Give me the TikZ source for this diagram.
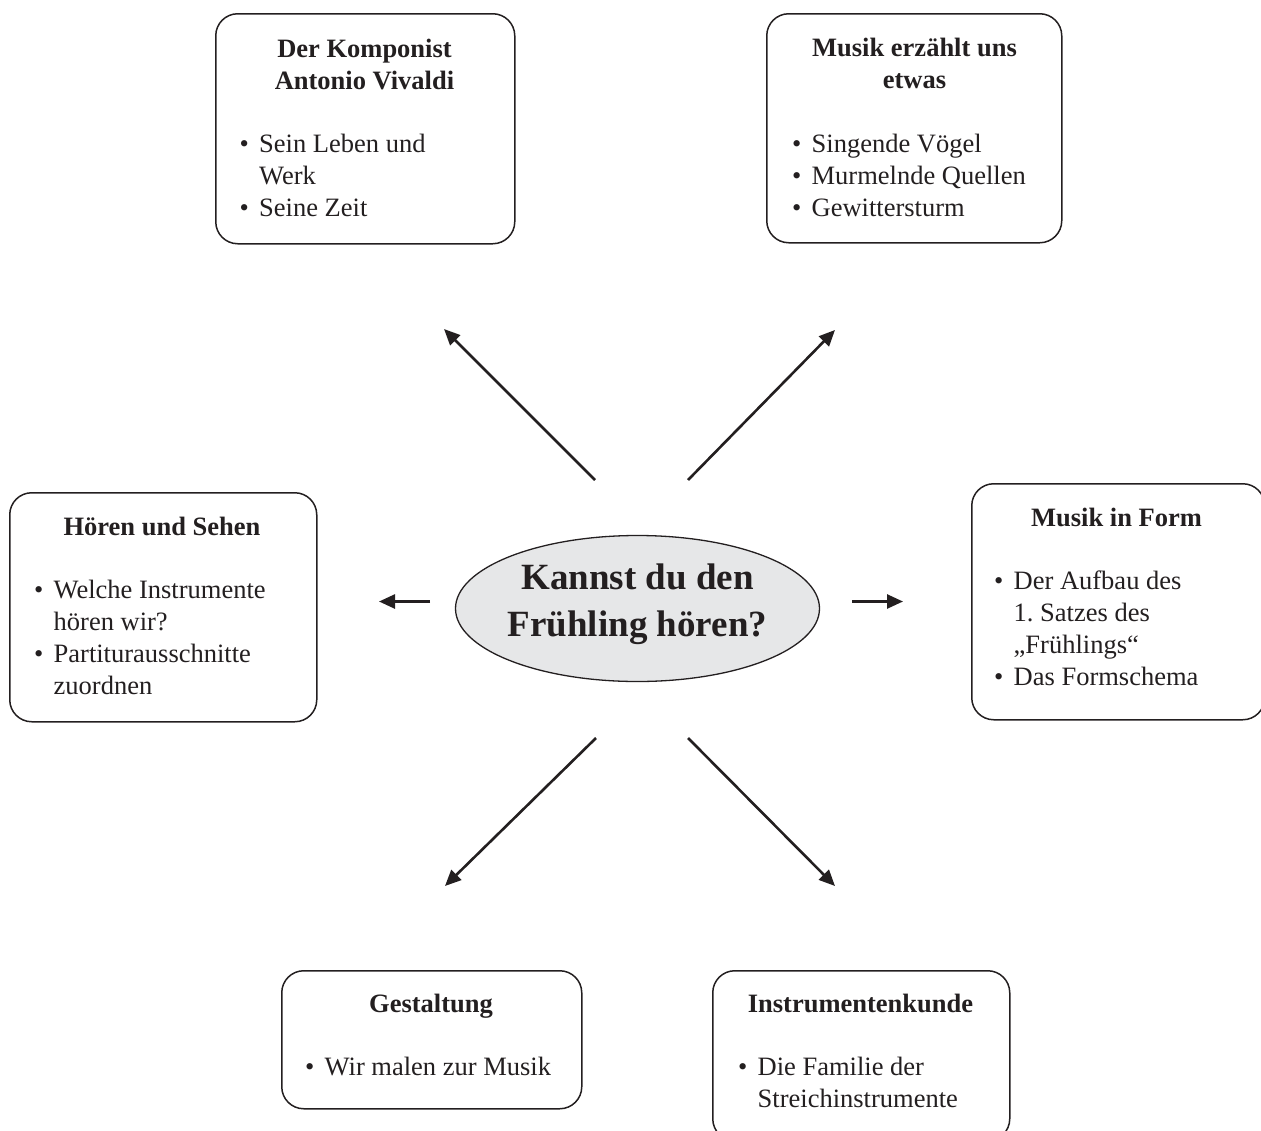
\documentclass[tikz,border=0pt]{standalone}
\usepackage{fontspec}
\setmainfont{Liberation Serif}
\usetikzlibrary{arrows.meta,shapes.geometric}
\definecolor{ink}{HTML}{231F20}
\definecolor{ellfill}{HTML}{E6E7E8}
\newlength{\bw}
\setlength{\bw}{19.5pt}
\newcommand{\Ttl}[3]{\node[ttl] (#1) at #2 {#3};}
\newcommand{\Itm}[3]{\node[txt] (#1) at #2 {\makebox[\bw][l]{\textbullet}#3};}
\newcommand{\Cnt}[3]{\node[txt] (#1) at #2 {\hspace*{\bw}#3};}
\frenchspacing
\begin{document}
\begin{tikzpicture}[x=1pt,y=-1pt,
  boxst/.style={draw=ink, line width=1.5pt, rounded corners=22pt, inner sep=0pt, anchor=north west},
  ttl/.style={font=\fontsize{26.5}{32}\selectfont\bfseries, text=ink, inner sep=0pt, anchor=base},
  txt/.style={font=\fontsize{26.5}{32}\selectfont, text=ink, inner sep=0pt, anchor=base west},
  big/.style={font=\fontsize{37}{47}\selectfont\bfseries, text=ink, inner sep=0pt, anchor=base},
  arr/.style={draw=ink, line width=2.6pt, -{Triangle[length=16pt,width=14pt]}},
]
\useasboundingbox (0,0) rectangle (1261,1130);

% central ellipse
\node[ellipse, draw=ink, line width=1.3pt, fill=ellfill, minimum width=364pt, minimum height=146pt, inner sep=0pt] (c) at (637.5,608.5) {};
\node[big] (c1) at (637.5,589) {Kannst du den};
\node[big] (c2) at (637.5,636) {Frühling hören?};

% box 1
\node[boxst, minimum width=299pt, minimum height=230pt] (b1) at (215,13) {};
\Ttl{b1t1}{(364.5,57.5)}{Der Komponist}
\Ttl{b1t2}{(364.5,89.5)}{Antonio Vivaldi}
\Itm{b1i1}{(239.5,152.5)}{Sein Leben und}
\Cnt{b1i2}{(239.5,184.5)}{Werk}
\Itm{b1i3}{(239.5,216.5)}{Seine Zeit}

% box 2
\node[boxst, minimum width=295pt, minimum height=229pt] (b2) at (766,13) {};
\Ttl{b2t1}{(914.5,56.5)}{Musik erzählt uns}
\Ttl{b2t2}{(914.5,88.5)}{etwas}
\Itm{b2i1}{(792,152)}{Singende Vögel}
\Itm{b2i2}{(792,184)}{Murmelnde Quellen}
\Itm{b2i3}{(792,216)}{Gewittersturm}

% box 3
\node[boxst, minimum width=307pt, minimum height=229pt] (b3) at (9,492) {};
\Ttl{b3t1}{(162,535)}{Hören und Sehen}
\Itm{b3i1}{(34,598)}{Welche Instrumente}
\Cnt{b3i2}{(34,630)}{hören wir?}
\Itm{b3i3}{(34,662)}{Partiturausschnitte}
\Cnt{b3i4}{(34,694)}{zuordnen}

% box 4
\node[boxst, minimum width=293pt, minimum height=236pt] (b4) at (971,483) {};
\Ttl{b4t1}{(1116.5,526.5)}{Musik in Form}
\Itm{b4i1}{(994,589.5)}{Der Aufbau des}
\Cnt{b4i2}{(994,621.5)}{1. Satzes des}
\Cnt{b4i3}{(994,653.5)}{„Frühlings“}
\Itm{b4i4}{(994,685.5)}{Das Formschema}

% box 5
\node[boxst, minimum width=300pt, minimum height=138pt] (b5) at (281,970) {};
\Ttl{b5t1}{(431,1012.5)}{Gestaltung}
\Itm{b5i1}{(305,1075.5)}{Wir malen zur Musik}

% box 6
\node[boxst, minimum width=297pt, minimum height=170pt] (b6) at (712,970) {};
\Ttl{b6t1}{(860.5,1012.5)}{Instrumentenkunde}
\Itm{b6i1}{(738,1075.5)}{Die Familie der}
\Cnt{b6i2}{(738,1107.5)}{Streichinstrumente}

% arrows
\coordinate (aULs) at (595,480);
\coordinate (aULe) at (444,329);
\coordinate (aURs) at (688,480);
\coordinate (aURe) at (835,330);
\coordinate (aLs) at (430,601.5);
\coordinate (aLe) at (379,601.5);
\coordinate (aRs) at (852,601.5);
\coordinate (aRe) at (903,601.5);
\coordinate (aLLs) at (596,738);
\coordinate (aLLe) at (445,886);
\coordinate (aLRs) at (688,738);
\coordinate (aLRe) at (835,886);
\draw[arr] (aULs) -- (aULe);
\draw[arr] (aURs) -- (aURe);
\draw[arr] (aLs) -- (aLe);
\draw[arr] (aRs) -- (aRe);
\draw[arr] (aLLs) -- (aLLe);
\draw[arr] (aLRs) -- (aLRe);
\end{tikzpicture}
\end{document}
